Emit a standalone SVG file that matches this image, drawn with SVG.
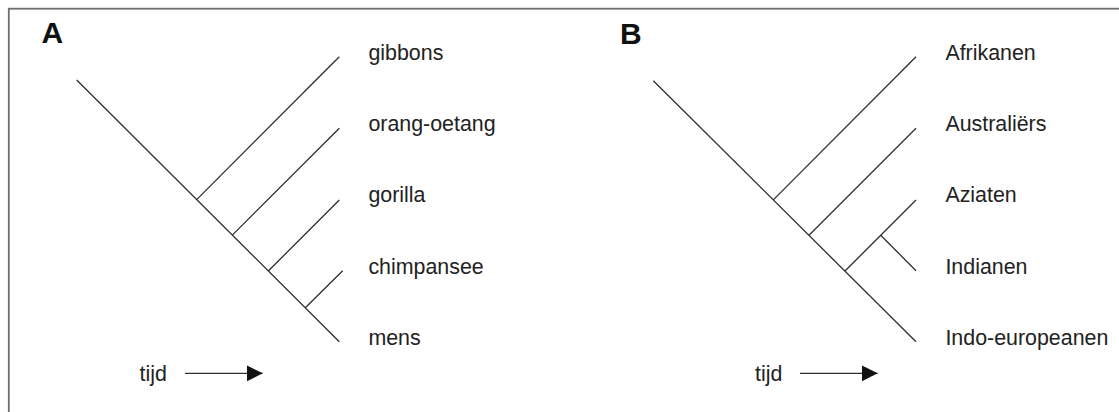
<svg xmlns="http://www.w3.org/2000/svg" width="1119" height="412" viewBox="0 0 1119 412">
  <style>
    .frame { fill: none; stroke: #6e6e6e; stroke-width: 1.8; }
    .branch { fill: none; stroke: #2e2e2e; stroke-width: 1.3; stroke-linecap: butt; }
    .taxon { font-family: "Liberation Sans", Arial, sans-serif; font-size: 21.4px; fill: #222; }
    .panel { font-family: "Liberation Sans", Arial, sans-serif; font-size: 30px; font-weight: bold; fill: #111; }
    .axis { fill: none; stroke: #2e2e2e; stroke-width: 1.3; }
  </style>
  <defs>
    <marker id="arrowhead" markerWidth="17" markerHeight="17" refX="16" refY="8" orient="auto" markerUnits="userSpaceOnUse">
      <path d="M0,0 L16,8 L0,16 Z" fill="#111"/>
    </marker>
  </defs>

  <rect width="1119" height="412" fill="#fff"/>
  <!-- outer frame (right and bottom edges run off the canvas) -->
  <rect class="frame" x="8.8" y="8.7" width="1130" height="420"/>

  <!-- Panel A: hominoid tree -->
  <g id="panel-a">
    <text class="panel" x="41.5" y="43.3">A</text>
    <g id="tree-a-connectors">
      <line class="branch" x1="76.7" y1="80" x2="339.3" y2="341.7"/>
      <line class="branch" x1="196.7" y1="199.6" x2="339.3" y2="56.7"/>
      <line class="branch" x1="232.3" y1="235.1" x2="339.3" y2="128.3"/>
      <line class="branch" x1="268.3" y1="271" x2="339.3" y2="200"/>
      <line class="branch" x1="305.3" y1="307.8" x2="342.7" y2="270.7"/>
    </g>
    <g id="node-gibbons"><text class="taxon" x="368.4" y="59.5">gibbons</text></g>
    <g id="node-orang-oetang"><text class="taxon" x="368.4" y="130.9">orang-oetang</text></g>
    <g id="node-gorilla"><text class="taxon" x="368.4" y="202.3">gorilla</text></g>
    <g id="node-chimpansee"><text class="taxon" x="368.4" y="273.7">chimpansee</text></g>
    <g id="node-mens"><text class="taxon" x="368.4" y="345.1">mens</text></g>
    <g id="time-a">
      <text class="taxon" x="139.5" y="380.5">tijd</text>
      <line class="axis" x1="185" y1="373.3" x2="262.7" y2="373.3" marker-end="url(#arrowhead)"/>
    </g>
  </g>

  <!-- Panel B: human population tree -->
  <g id="panel-b">
    <text class="panel" x="620" y="43.5">B</text>
    <g id="tree-b-connectors">
      <line class="branch" x1="653.3" y1="80.7" x2="916" y2="341.7"/>
      <line class="branch" x1="773.3" y1="199.9" x2="916" y2="56.7"/>
      <line class="branch" x1="809" y1="235.3" x2="916" y2="128.3"/>
      <line class="branch" x1="845" y1="271" x2="916" y2="200"/>
      <line class="branch" x1="880.7" y1="235.3" x2="916" y2="270.7"/>
    </g>
    <g id="node-afrikanen"><text class="taxon" x="945.4" y="59.5">Afrikanen</text></g>
    <g id="node-australiers"><text class="taxon" x="945.4" y="130.9">Australiërs</text></g>
    <g id="node-aziaten"><text class="taxon" x="945.4" y="202.3">Aziaten</text></g>
    <g id="node-indianen"><text class="taxon" x="945.4" y="273.7">Indianen</text></g>
    <g id="node-indo-europeanen"><text class="taxon" x="945.4" y="345.1">Indo-europeanen</text></g>
    <g id="time-b">
      <text class="taxon" x="755" y="380.5">tijd</text>
      <line class="axis" x1="800" y1="373.3" x2="877.7" y2="373.3" marker-end="url(#arrowhead)"/>
    </g>
  </g>
</svg>
